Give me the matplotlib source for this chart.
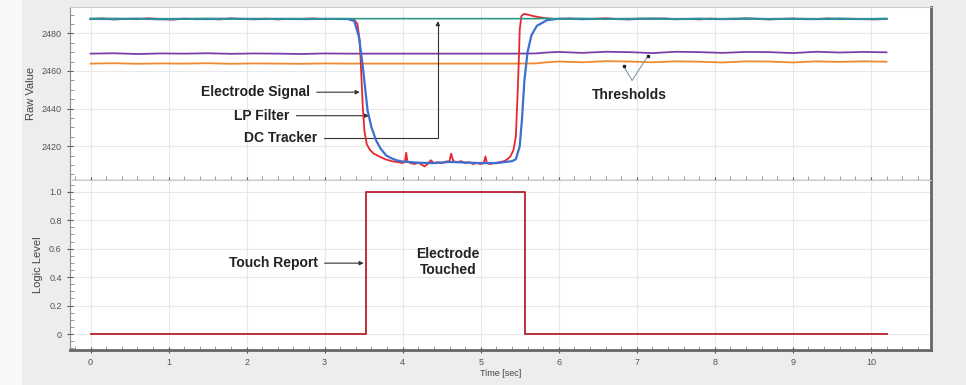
import matplotlib
matplotlib.use("Agg")
import matplotlib.pyplot as plt
from matplotlib.ticker import MultipleLocator, FixedLocator, FixedFormatter
from matplotlib.patches import Rectangle

plt.rcParams['font.family'] = ['Liberation Sans', 'DejaVu Sans']

# ---------------- data ----------------
# Electrode signal (raw)
sig_t = [0.0, 0.15, 0.3, 0.45, 0.6, 0.75, 0.9, 1.05, 1.2, 1.35, 1.5, 1.65, 1.8, 1.95,
         2.1, 2.25, 2.4, 2.55, 2.7, 2.85, 3.0, 3.15, 3.3,
         3.38, 3.42, 3.45, 3.47, 3.49, 3.51, 3.54, 3.58, 3.63, 3.7, 3.78, 3.86, 3.94,
         4.0, 4.03, 4.045, 4.06, 4.1, 4.15, 4.2, 4.25, 4.28, 4.32, 4.36, 4.4, 4.45,
         4.5, 4.55, 4.6, 4.62, 4.65, 4.7, 4.75, 4.8, 4.85, 4.9, 4.95, 5.0, 5.04, 5.06,
         5.08, 5.12, 5.18, 5.24, 5.3, 5.34, 5.38, 5.42, 5.45, 5.47, 5.49, 5.5, 5.52,
         5.55, 5.6, 5.66, 5.72, 5.8, 5.9, 6.0,
         6.15, 6.3, 6.45, 6.6, 6.75, 6.9, 7.05, 7.2, 7.35, 7.5, 7.65, 7.8, 7.95, 8.1,
         8.25, 8.4, 8.55, 8.7, 8.85, 9.0, 9.15, 9.3, 9.45, 9.6, 9.75, 9.9, 10.05, 10.2]
sig_v = [2487.6, 2487.9, 2487.4, 2487.7, 2487.5, 2488.0, 2487.6, 2487.3, 2487.8, 2487.5,
         2487.7, 2487.4, 2487.9, 2487.6, 2487.5, 2487.8, 2487.4, 2487.7, 2487.6, 2487.9,
         2487.5, 2487.7, 2487.6,
         2487.2, 2485.0, 2476.0, 2458.0, 2440.0, 2428.0, 2421.0, 2418.0, 2416.0, 2414.5,
         2413.0, 2412.0, 2411.5,
         2411.0, 2412.0, 2416.5, 2412.0, 2411.0, 2410.5, 2411.2, 2410.0, 2409.2, 2410.5,
         2412.5, 2411.0, 2411.5,
         2411.0, 2411.8, 2412.0, 2416.0, 2412.0, 2411.5, 2412.0, 2411.0, 2411.5, 2410.5,
         2411.0, 2410.5, 2411.0, 2414.5,
         2411.0, 2410.5, 2411.0, 2411.5, 2412.0, 2413.0, 2414.5, 2418.0, 2425.0, 2445.0,
         2468.0, 2482.0, 2489.0,
         2490.3, 2490.0, 2489.3, 2488.8, 2488.2, 2487.8, 2487.6,
         2487.9, 2487.5, 2487.7, 2488.0, 2487.6, 2487.4, 2487.8, 2487.6, 2487.9, 2487.5,
         2487.7, 2487.4, 2487.8, 2487.6, 2487.5, 2487.9, 2487.6, 2487.4, 2487.7, 2487.8,
         2487.5, 2487.6, 2487.9, 2487.5, 2487.7, 2487.6, 2487.4, 2487.6]

# LP filter
lp_t = [0.0, 0.3, 0.6, 0.9, 1.2, 1.5, 1.8, 2.1, 2.4, 2.7, 3.0, 3.3, 3.38, 3.44,
        3.49, 3.55, 3.6, 3.66, 3.72, 3.79, 3.86, 3.92, 4.0, 4.2, 4.4, 4.6, 4.8,
        5.0, 5.2, 5.4, 5.45, 5.5, 5.53, 5.56, 5.6, 5.65, 5.72, 5.85, 6.0, 6.3,
        6.6, 6.9, 7.2, 7.5, 7.8, 8.1, 8.4, 8.7, 9.0, 9.3, 9.6, 9.9, 10.2]
lp_v = [2487.7, 2487.6, 2487.8, 2487.5, 2487.7, 2487.6, 2487.8, 2487.6, 2487.7, 2487.6,
        2487.7, 2487.6, 2486.5, 2478.0, 2462.0, 2439.0, 2430.0, 2423.0, 2418.5, 2415.0,
        2413.5, 2412.5, 2411.8, 2411.2, 2411.0, 2411.6, 2411.3, 2411.0, 2411.0, 2412.0,
        2413.0, 2420.0, 2435.0, 2455.0, 2470.0, 2479.0, 2484.0, 2487.0, 2487.8, 2487.6,
        2487.7, 2487.6, 2487.8, 2487.6, 2487.7, 2487.6, 2487.8, 2487.6, 2487.7, 2487.6,
        2487.7, 2487.6, 2487.7]

# DC tracker and thresholds
thr_t = [0.0, 0.3, 0.6, 0.9, 1.2, 1.5, 1.8, 2.1, 2.4, 2.7, 3.0, 3.3, 3.6, 3.9, 4.2,
         4.5, 4.8, 5.1, 5.4, 5.7, 5.85, 6.0, 6.3, 6.6, 6.9, 7.2, 7.5, 7.8, 8.1, 8.4,
         8.7, 9.0, 9.3, 9.6, 9.9, 10.2]
dc_v = [2487.8, 2487.9, 2487.6, 2487.8, 2487.7, 2487.9, 2487.6, 2487.8, 2487.7, 2487.8,
        2487.7, 2487.8, 2487.8, 2487.8, 2487.8, 2487.8, 2487.8, 2487.8, 2487.8, 2487.8,
        2487.9, 2487.7, 2487.9, 2487.6, 2487.8, 2487.9, 2487.6, 2487.8, 2487.7, 2487.9,
        2487.6, 2487.8, 2487.7, 2487.9, 2487.6, 2487.8]
thr_hi = [2469.2, 2469.4, 2469.0, 2469.3, 2469.2, 2469.4, 2469.1, 2469.3, 2469.2, 2469.0,
          2469.3, 2469.2, 2469.2, 2469.2, 2469.2, 2469.2, 2469.2, 2469.2, 2469.2, 2469.3,
          2469.8, 2470.1, 2469.6, 2470.2, 2470.0, 2469.5, 2470.2, 2470.0, 2469.6, 2470.1,
          2470.0, 2469.5, 2470.2, 2469.8, 2470.1, 2469.9]
thr_lo = [2463.9, 2464.1, 2463.8, 2464.0, 2463.9, 2464.1, 2463.8, 2464.0, 2463.9, 2463.8,
          2464.0, 2463.9, 2463.9, 2463.9, 2463.9, 2463.9, 2463.9, 2463.9, 2463.9, 2464.0,
          2464.6, 2465.0, 2464.6, 2465.2, 2465.0, 2464.6, 2465.1, 2464.9, 2464.5, 2465.1,
          2465.0, 2464.5, 2465.1, 2464.8, 2465.1, 2464.9]

# Touch report (logic level)
touch_t = [0.0, 3.53, 3.53, 5.57, 5.57, 10.2]
touch_v = [0, 0, 1, 1, 0, 0]

raw_ticks = [2420, 2440, 2460, 2480]
logic_ticks = [0, 0.2, 0.4, 0.6, 0.8, 1.0]
logic_labels = ['0', '0.2', '0.4', '0.6', '0.8', '1.0']
time_ticks = [0, 1, 2, 3, 4, 5, 6, 7, 8, 9, 10]

# ---------------- figure ----------------
W, H = 966, 385
fig = plt.figure(figsize=(W / 100, H / 100), dpi=100, facecolor='#ededed')
fig.patches.append(Rectangle((0, 0), 22 / W, 1, transform=fig.transFigure,
                             facecolor='#f8f8f8', edgecolor='none', zorder=0))

L = 70 / W
Wd = (931 - 70) / W
ax1 = fig.add_axes([L, (H - 180) / H, Wd, 173 / H])
ax2 = fig.add_axes([L, (H - 350) / H, Wd, 170 / H], sharex=ax1)

tick_col = '#555555'
for ax in (ax1, ax2):
    ax.set_facecolor('white')
    ax.grid(True, which='major', color='#e8e8e8', lw=0.8)
    ax.set_axisbelow(True)
    ax.xaxis.set_major_locator(FixedLocator(time_ticks))
    ax.xaxis.set_minor_locator(MultipleLocator(0.2))
    ax.tick_params(which='major', direction='inout', length=5, width=0.8,
                   colors=tick_col, labelsize=6.5, labelcolor='#555555')
    ax.tick_params(which='minor', direction='in', length=3, width=0.6, colors='#888888')
    ax.tick_params(axis='x', which='both', top=False)
    ax.tick_params(axis='y', which='both', right=False)
    ax.spines['top'].set_color('#cccccc')
    ax.spines['right'].set_color('#666666')
    ax.spines['right'].set_linewidth(2.0)
    ax.spines['left'].set_color('#888888')
    ax.spines['bottom'].set_color('#888888')

ax2.spines['bottom'].set_color('#666666')
ax2.spines['bottom'].set_linewidth(2.0)
ax1.spines['bottom'].set_linewidth(1.0)

ax1.set_xlim(-0.263, 10.77)
ax1.set_ylim(2402, 2494)
ax2.set_ylim(-0.112, 1.082)

# top panel series
ax1.plot(thr_t, thr_hi, color='#7b3fa8', lw=1.3, zorder=3)
ax1.plot(thr_t, thr_lo, color='#f08a30', lw=1.3, zorder=3)
ax1.plot(sig_t, sig_v, color='#e8262f', lw=1.3, zorder=4)
ax1.plot(lp_t, lp_v, color='#3b6fd0', lw=1.6, zorder=5)
ax1.plot(thr_t, dc_v, color='#2a9a86', lw=1.2, zorder=6)

ax1.yaxis.set_major_locator(FixedLocator(raw_ticks))
ax1.yaxis.set_minor_locator(MultipleLocator(5))
ax1.tick_params(axis='x', which='both', labelbottom=False)
ax1.set_ylabel('Raw Value', fontsize=8, color='#444444', labelpad=4)

# bottom panel
ax2.plot(touch_t, touch_v, color='#b3222b', lw=1.3, zorder=4)
ax2.yaxis.set_major_locator(FixedLocator(logic_ticks))
ax2.yaxis.set_major_formatter(FixedFormatter(logic_labels))
ax2.yaxis.set_minor_locator(MultipleLocator(0.05))
ax2.set_ylabel('Logic Level', fontsize=8, color='#444444', labelpad=4)
ax2.set_xlabel('Time [sec]', fontsize=6.5, color='#444444', labelpad=1)

# ---------------- annotations ----------------
txt = dict(fontsize=10, fontweight='bold', color='#222222')
arr = dict(arrowstyle='-|>', color='#333333', lw=0.8, mutation_scale=6, shrinkA=3, shrinkB=0)

ax1.annotate('Electrode Signal', xy=(3.45, 2448.7), xytext=(2.81, 2448.7),
             ha='right', va='center', arrowprops=arr, **txt)
ax1.annotate('LP Filter', xy=(3.57, 2436.2), xytext=(2.55, 2436.2),
             ha='right', va='center', arrowprops=arr, **txt)
ax1.annotate('DC Tracker', xy=(4.45, 2486.5), xytext=(2.9, 2424.2),
             ha='right', va='center',
             arrowprops=dict(arrowstyle='-|>', color='#333333', lw=0.8, mutation_scale=6,
                             shrinkA=3, shrinkB=0,
                             connectionstyle='angle,angleA=0,angleB=90,rad=0'), **txt)
thr_arr = dict(arrowstyle='-', color='#7f9cb0', lw=0.8, shrinkA=0, shrinkB=0)
ax1.annotate('', xy=(6.83, 2462.5), xytext=(6.94, 2455.0), arrowprops=thr_arr)
ax1.annotate('', xy=(7.14, 2467.8), xytext=(6.94, 2455.0), arrowprops=thr_arr)
ax1.plot([6.83, 7.14], [2462.5, 2467.8], ls='none', marker='s', ms=1.8,
         color='#222222', zorder=7)
ax1.text(6.91, 2447.0, 'Thresholds', ha='center', va='center', **txt)

ax2.annotate('Touch Report', xy=(3.5, 0.498), xytext=(2.91, 0.498),
             ha='right', va='center', arrowprops=arr, **txt)
ax2.text(4.58, 0.505, 'Electrode\nTouched', ha='center', va='center',
         linespacing=1.2, **txt)

fig.savefig('out.png', dpi=100, facecolor=fig.get_facecolor())
